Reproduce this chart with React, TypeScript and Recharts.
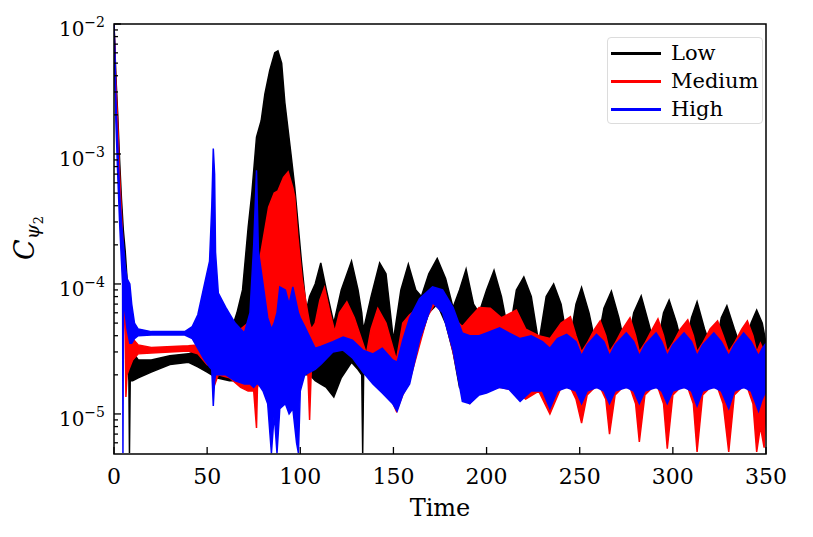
import React from "react";
import { ComposedChart, Area, XAxis, YAxis, ReferenceArea, Legend } from "recharts";

// [time, lower envelope, upper envelope]
const lowSeries: [number, number, number][] = [
  [0, 9e-3, 1e-2], [1, 3e-3, 4e-3], [2, 1.3e-3, 2e-3], [3, 5e-4, 9e-4], [4, 2.5e-4, 4.5e-4],
  [5, 1.5e-4, 2.6e-4], [6, 9e-5, 1.8e-4], [7, 3e-5, 1.1e-4], [8, 1.8e-5, 6e-5], [8.3, 5e-6, 4e-5],
  [8.7, 1.8e-5, 3.5e-5], [10, 1.8e-5, 3e-5], [13, 1.9e-5, 2.6e-5], [20, 2.1e-5, 2.6e-5], [30, 2.4e-5, 2.8e-5],
  [40, 2.5e-5, 2.9e-5], [45, 2.3e-5, 3.1e-5], [50, 2.1e-5, 3.5e-5], [55, 1.9e-5, 3.5e-5], [62, 1.8e-5, 4e-5],
  [66, 1.8e-5, 6e-5], [69, 1.9e-5, 9e-5], [72, 2e-5, 2.7e-4], [74, 2e-5, 5e-4], [76.5, 2e-5, 1.35e-3],
  [79, 2e-5, 1.8e-3], [81, 2e-5, 2.9e-3], [83.6, 2e-5, 4.4e-3], [86.3, 2e-5, 6e-3], [88, 2e-5, 6.2e-3],
  [90, 2e-5, 5e-3], [91.7, 2e-5, 2.5e-3], [95, 2e-5, 1e-3], [97, 2e-5, 5.6e-4], [100.6, 2e-5, 1.5e-4],
  [103.3, 2e-5, 6.3e-5], [105, 2e-5, 8e-5], [108, 1.8e-5, 1e-4], [111, 1.7e-5, 1.45e-4], [114, 1.6e-5, 9e-5],
  [118, 1.35e-5, 5e-5], [122, 1.9e-5, 9e-5], [127.5, 2.5e-5, 1.5e-4], [131, 2.2e-5, 9e-5], [133, 2e-5, 6e-5],
  [133.5, 5e-6, 5e-5], [134, 2e-5, 4.5e-5], [138, 2.2e-5, 8e-5], [142.6, 2e-5, 1.45e-4], [146, 1.8e-5, 1.2e-4],
  [150, 1.2e-5, 3.7e-5], [154, 1.5e-5, 9e-5], [158, 2e-5, 1.42e-4], [162, 3e-5, 9e-5], [165, 4e-5, 8e-5],
  [169, 6e-5, 1.2e-4], [173.5, 7e-5, 1.57e-4], [178, 5e-5, 1.1e-4], [182, 3e-5, 6.6e-5], [185.5, 1.6e-5, 9e-5],
  [189, 1.5e-5, 1.3e-4], [193, 1.6e-5, 7e-5], [196, 1.7e-5, 6e-5], [200, 1.7e-5, 9e-5], [204, 1.7e-5, 1.27e-4],
  [208, 1.7e-5, 8e-5], [212, 1.7e-5, 4e-5], [216, 1.7e-5, 9e-5], [220, 1.7e-5, 1.13e-4], [224, 1.7e-5, 8e-5],
  [228, 1.7e-5, 3.5e-5], [232, 1.7e-5, 8e-5], [236, 1.7e-5, 1e-4], [240, 1.7e-5, 7e-5], [244, 1.7e-5, 3.2e-5],
  [248, 1.7e-5, 7e-5], [251, 1.7e-5, 9.4e-5], [255, 1.7e-5, 6e-5], [259, 1.7e-5, 3.2e-5], [263, 1.7e-5, 6.5e-5],
  [267, 1.7e-5, 8.8e-5], [271, 1.7e-5, 5.5e-5], [275, 1.7e-5, 3e-5], [279, 1.7e-5, 6e-5], [283, 1.7e-5, 8.1e-5],
  [287, 1.7e-5, 5e-5], [291, 1.7e-5, 3e-5], [295, 1.7e-5, 6e-5], [298, 1.7e-5, 7.5e-5], [302, 1.7e-5, 5e-5],
  [306, 1.7e-5, 2.9e-5], [310, 1.7e-5, 5.5e-5], [313, 1.7e-5, 7.3e-5], [317, 1.7e-5, 4.5e-5], [322, 1.7e-5, 2.8e-5],
  [326, 1.7e-5, 5.5e-5], [329, 1.7e-5, 6.8e-5], [333, 1.7e-5, 4.5e-5], [338, 1.7e-5, 2.8e-5], [342, 1.7e-5, 5e-5],
  [345, 1.7e-5, 6.3e-5], [348, 1.7e-5, 5e-5], [350, 1.7e-5, 3.5e-5],
];

const mediumSeries: [number, number, number][] = [
  [0, 9e-3, 1e-2], [1, 2.5e-3, 3.5e-3], [2, 1.1e-3, 1.7e-3], [3, 4.5e-4, 7e-4], [4, 2e-4, 3.5e-4],
  [5, 1e-4, 1.8e-4], [6, 4e-5, 1.2e-4], [6.4, 1.35e-5, 1.1e-4], [7, 2e-5, 8e-5], [8, 2.2e-5, 5e-5],
  [10, 2.6e-5, 3.8e-5], [13, 2.9e-5, 3.4e-5], [20, 2.95e-5, 3.25e-5], [40, 3.05e-5, 3.35e-5], [45, 2.9e-5, 3.4e-5],
  [50, 2.4e-5, 3.8e-5], [52.8, 2.3e-5, 4e-5], [53.5, 1.6e-5, 4e-5], [56, 2e-5, 4e-5], [62, 1.9e-5, 4e-5],
  [68, 1.6e-5, 4.5e-5], [72, 1.5e-5, 5e-5], [75, 1.5e-5, 6e-5], [76.5, 7.8e-6, 7e-5], [77, 1.6e-5, 1.2e-4],
  [79, 2e-5, 1.8e-4], [83, 2e-5, 3.9e-4], [86, 2e-5, 5e-4], [88, 2e-5, 5.2e-4], [91, 2.2e-5, 6.6e-4],
  [93.5, 2.2e-5, 7.3e-4], [96, 2.2e-5, 5.5e-4], [97, 2e-5, 4.7e-4], [98.7, 1.8e-5, 2.3e-4], [101, 2e-5, 1.1e-4],
  [104, 2.2e-5, 6e-5], [105, 9e-6, 5e-5], [106, 2.4e-5, 4.5e-5], [108, 2.5e-5, 5e-5], [110.5, 3e-5, 7.5e-5],
  [113, 3.2e-5, 9.4e-5], [116, 3.3e-5, 6e-5], [118.5, 3.2e-5, 4.3e-5], [121, 3.2e-5, 6e-5], [125, 3e-5, 7.3e-5],
  [129, 2.8e-5, 5.5e-5], [135.5, 2.4e-5, 2.9e-5], [138, 2.2e-5, 4.5e-5], [141.6, 2e-5, 6.5e-5], [146, 1.6e-5, 5e-5],
  [151.6, 1.05e-5, 2.6e-5], [155, 1.4e-5, 5e-5], [158.7, 1.8e-5, 5.8e-5], [163, 3e-5, 6.5e-5], [168, 5.5e-5, 8e-5],
  [172, 7e-5, 9e-5], [177, 6e-5, 8.5e-5], [182, 3e-5, 5.5e-5], [187, 1.4e-5, 4.7e-5], [191, 1.2e-5, 5.5e-5],
  [196, 1.5e-5, 6.6e-5], [202, 1.6e-5, 6.5e-5], [208, 1.6e-5, 5.5e-5], [216, 1.5e-5, 6.3e-5], [221, 1.3e-5, 4.5e-5],
  [228, 1.5e-5, 4e-5], [234, 1e-5, 3.8e-5], [240, 1.6e-5, 5e-5], [245, 1.6e-5, 5.6e-5], [248, 1.3e-5, 4e-5],
  [251, 8.5e-6, 3e-5], [254, 1.4e-5, 3.5e-5], [258, 1.6e-5, 4.5e-5], [261, 1.6e-5, 5.2e-5], [264, 1.3e-5, 4e-5],
  [266, 7e-6, 3e-5], [269, 1.4e-5, 3.5e-5], [273, 1.6e-5, 4.5e-5], [277, 1.6e-5, 5.5e-5], [280, 1.2e-5, 4e-5],
  [282, 6.1e-6, 3e-5], [285, 1.4e-5, 3.5e-5], [289, 1.6e-5, 4.5e-5], [292, 1.6e-5, 5.4e-5], [295, 1.2e-5, 4e-5],
  [297, 5.4e-6, 3e-5], [300, 1.4e-5, 3.5e-5], [304, 1.6e-5, 4.5e-5], [308, 1.6e-5, 5.3e-5], [311, 1.2e-5, 4e-5],
  [313, 5.1e-6, 3e-5], [316, 1.4e-5, 3.5e-5], [320, 1.6e-5, 4.5e-5], [324, 1.6e-5, 5.2e-5], [327, 1.2e-5, 4e-5],
  [330, 5.1e-6, 3e-5], [333, 1.4e-5, 3.5e-5], [337, 1.6e-5, 4.5e-5], [340, 1.6e-5, 5.2e-5], [343, 1.2e-5, 4e-5],
  [345, 5.1e-6, 3e-5], [347, 8e-6, 3.5e-5], [349, 5.5e-6, 3e-5], [350, 1.2e-5, 3e-5],
];

const highSeries: [number, number, number][] = [
  [0, 9e-3, 1e-2], [0.5, 4e-3, 6e-3], [1, 1.8e-3, 2.6e-3], [2, 7e-4, 1.2e-3], [3, 3e-4, 5e-4],
  [4, 1.5e-4, 3e-4], [4.6, 1e-4, 2.4e-4], [4.8, 5e-6, 2.2e-4], [5.1, 8e-5, 2e-4], [6, 6e-5, 1.4e-4],
  [7, 4.5e-5, 1.1e-4], [8.5, 3.5e-5, 1e-4], [9.5, 3.5e-5, 7e-5], [11, 3.8e-5, 5e-5], [13, 4e-5, 4.5e-5],
  [20, 4.05e-5, 4.3e-5], [38, 4.05e-5, 4.3e-5], [42, 3.8e-5, 4.7e-5], [45, 3.2e-5, 5.8e-5], [48.6, 2.6e-5, 1e-4],
  [51.3, 2.3e-5, 1.5e-4], [52.5, 2.2e-5, 4e-4], [53.3, 1.15e-5, 1.1e-3], [54, 1.8e-5, 7e-4], [54.5, 2e-5, 1.75e-4],
  [56, 2e-5, 8.5e-5], [60, 2e-5, 6.6e-5], [65, 1.8e-5, 5e-5], [70, 1.7e-5, 4.2e-5], [73, 1.7e-5, 6e-5],
  [75, 1.6e-5, 2e-4], [76.5, 1.7e-5, 7.5e-4], [77.5, 1.7e-5, 1.8e-4], [80, 1.5e-5, 1e-4], [82.5, 1.2e-5, 5.5e-5],
  [84.5, 5e-6, 4.5e-5], [86, 1e-5, 5e-5], [87.5, 5e-6, 6e-5], [89, 1.1e-5, 9.5e-5], [92, 1.2e-5, 9e-5],
  [94, 1e-5, 7e-5], [96, 1.1e-5, 9.5e-5], [98, 6e-6, 7e-5], [99, 5e-6, 6e-5], [100, 1.5e-5, 5.5e-5],
  [102.4, 2e-5, 4.7e-5], [108, 2.2e-5, 3.2e-5], [111, 2.4e-5, 3.3e-5], [117.5, 3e-5, 3.6e-5], [123, 3.1e-5, 3.9e-5],
  [128, 2.7e-5, 3.7e-5], [133.6, 2.1e-5, 3.1e-5], [139, 1.7e-5, 2.9e-5], [144, 1.45e-5, 3.2e-5], [149.6, 1.2e-5, 2.6e-5],
  [152, 1.05e-5, 2.5e-5], [155, 1.4e-5, 3.7e-5], [158.7, 1.7e-5, 5.5e-5], [164, 3.7e-5, 7.7e-5], [171, 7.2e-5, 9.5e-5],
  [176.4, 6e-5, 9e-5], [182, 3.1e-5, 6.6e-5], [187, 1.25e-5, 4.2e-5], [191, 1.2e-5, 4e-5], [196, 1.4e-5, 4e-5],
  [200, 1.45e-5, 4.2e-5], [207, 1.6e-5, 4.6e-5], [212, 1.55e-5, 4.2e-5], [218, 1.25e-5, 3.8e-5], [224, 1.5e-5, 4e-5],
  [230, 1.5e-5, 3.6e-5], [234, 1.1e-5, 3.2e-5], [238, 1.5e-5, 3.8e-5], [243, 1.6e-5, 4.1e-5], [248, 1.5e-5, 3.6e-5],
  [251, 1.2e-5, 2.8e-5], [254, 1.5e-5, 3.4e-5], [259, 1.6e-5, 4.1e-5], [263, 1.5e-5, 3.6e-5], [266, 1.2e-5, 2.8e-5],
  [269, 1.5e-5, 3.4e-5], [275, 1.6e-5, 4.2e-5], [279, 1.5e-5, 3.6e-5], [282, 1.2e-5, 2.8e-5], [285, 1.5e-5, 3.4e-5],
  [291, 1.6e-5, 4.2e-5], [294, 1.5e-5, 3.6e-5], [297, 1.2e-5, 2.8e-5], [300, 1.5e-5, 3.4e-5], [306, 1.6e-5, 4.2e-5],
  [310, 1.5e-5, 3.6e-5], [313, 1.15e-5, 2.8e-5], [316, 1.5e-5, 3.4e-5], [322, 1.6e-5, 4.2e-5], [326, 1.5e-5, 3.6e-5],
  [330, 1.1e-5, 2.8e-5], [333, 1.5e-5, 3.4e-5], [338, 1.6e-5, 4.2e-5], [342, 1.5e-5, 3.6e-5], [346, 1.05e-5, 2.8e-5],
  [348, 1.3e-5, 3.2e-5], [350, 1.5e-5, 3.5e-5],
];

const xTicks = [0, 50, 100, 150, 200, 250, 300, 350];
const yMajorTicks = [1e-5, 1e-4, 1e-3, 1e-2];
const yMinorTicks = [
  6e-6, 7e-6, 8e-6, 9e-6,
  2e-5, 3e-5, 4e-5, 5e-5, 6e-5, 7e-5, 8e-5, 9e-5,
  2e-4, 3e-4, 4e-4, 5e-4, 6e-4, 7e-4, 8e-4, 9e-4,
  2e-3, 3e-3, 4e-3, 5e-3, 6e-3, 7e-3, 8e-3, 9e-3,
];
const yDomain: [number, number] = [4.92e-6, 1e-2];

const SERIES = [
  { name: "Low", data: lowSeries, color: "#000000" },
  { name: "Medium", data: mediumSeries, color: "#ff0000" },
  { name: "High", data: highSeries, color: "#0000ff" },
];

const FONT = "'DejaVu Serif', serif";

const toRows = (rows: [number, number, number][]) =>
  rows.map(([t, lo, hi]) => ({ t, band: [lo, hi] }));

const YTick = (props: any) => {
  const { x, y, payload } = props;
  const v = payload.value;
  const major = yMajorTicks.some((m) => Math.abs(m - v) / m < 1e-6);
  const exp = Math.round(Math.log10(v));
  return (
    <g>
      <line x1={x} x2={x + (major ? 7 : 4)} y1={y} y2={y} stroke="#000" strokeWidth={1.3} />
      {major ? (
        <text x={x - 9} y={y + 12} textAnchor="end" fontFamily={FONT} fontSize={20} fill="#000">
          10
          <tspan dy={-9} fontSize={14}>{"\u2212" + Math.abs(exp)}</tspan>
        </text>
      ) : null}
    </g>
  );
};

const XTick = (props: any) => {
  const { x, y, payload } = props;
  return (
    <g>
      <line x1={x} x2={x} y1={y} y2={y - 7} stroke="#000" strokeWidth={1.3} />
      <text x={x} y={y + 30} textAnchor="middle" fontFamily={FONT} fontSize={22} fill="#000">
        {payload.value}
      </text>
    </g>
  );
};

const renderXLabel = () => (
  <text x={440} y={516} textAnchor="middle" fontFamily={FONT} fontSize={24} fill="#000">
    Time
  </text>
);

const renderYLabel = () => (
  <text
    x={34}
    y={238}
    transform="rotate(-90, 34, 238)"
    textAnchor="middle"
    fontFamily={FONT}
    fill="#000"
  >
    <tspan fontSize={27} fontStyle="italic">C</tspan>
    <tspan fontSize={19} fontStyle="italic" dy={5}>ψ</tspan>
    <tspan fontSize={13} dy={4}>2</tspan>
  </text>
);

const renderLegend = () => (
  <div
    style={{
      width: 156,
      height: 87,
      border: "1px solid #dcdcdc",
      borderRadius: 4,
      background: "rgba(255,255,255,0.85)",
      boxSizing: "border-box",
      paddingTop: 2,
    }}
  >
    {SERIES.map((s) => (
      <div key={s.name} style={{ display: "flex", alignItems: "center", height: 27.7 }}>
        <div style={{ width: 50, height: 3, background: s.color, marginLeft: 3, marginRight: 10 }} />
        <span style={{ fontFamily: FONT, fontSize: 21, color: "#000", lineHeight: "27px" }}>{s.name}</span>
      </div>
    ))}
  </div>
);

export default function App() {
  return (
    <div style={{ position: "absolute", left: 0, top: 0, background: "#fff" }}>
      <ComposedChart width={813} height={537} margin={{ top: 24, right: 47, left: 0, bottom: 0 }}>
        <XAxis
          dataKey="t"
          type="number"
          domain={[0, 350]}
          ticks={xTicks}
          interval={0}
          allowDataOverflow
          axisLine={false}
          tickLine={false}
          tickSize={0}
          tickMargin={0}
          height={83}
          tick={<XTick />}
          label={{ value: "Time", content: renderXLabel }}
        />
        <YAxis
          type="number"
          scale="log"
          domain={yDomain}
          allowDataOverflow
          ticks={[...yMinorTicks, ...yMajorTicks]}
          interval={0}
          axisLine={false}
          tickLine={false}
          tickSize={0}
          tickMargin={0}
          width={114}
          tick={<YTick />}
          label={{ value: "C", content: renderYLabel }}
        />
        {SERIES.map((s) => (
          <Area
            key={s.name}
            name={s.name}
            data={toRows(s.data)}
            dataKey="band"
            type="linear"
            stroke={s.color}
            strokeWidth={1.5}
            fill={s.color}
            fillOpacity={1}
            dot={false}
            activeDot={false}
            isAnimationActive={false}
          />
        ))}
        <ReferenceArea
          x1={0}
          x2={350}
          y1={yDomain[0]}
          y2={yDomain[1]}
          fill="none"
          stroke="#000"
          strokeWidth={1.5}
          ifOverflow="visible"
        />
        <Legend
          layout="horizontal"
          verticalAlign="middle"
          align="center"
          content={renderLegend}
          wrapperStyle={{ left: 607, top: 37, width: 156, height: 87 }}
        />
      </ComposedChart>
    </div>
  );
}
